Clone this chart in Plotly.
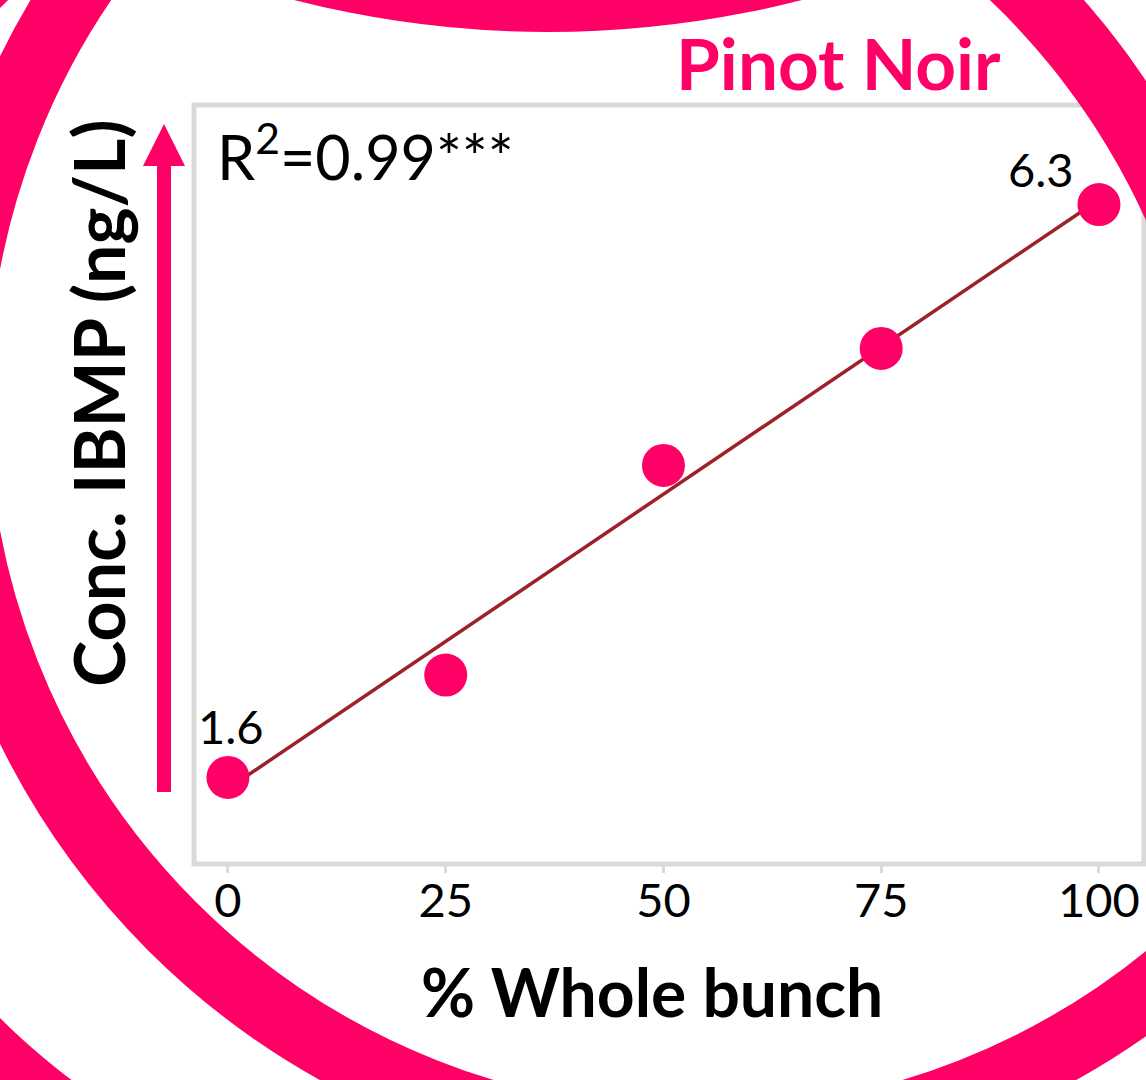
import numpy as np
import plotly.graph_objects as go

# ---- data -------------------------------------------------------------
pct_whole_bunch = [0, 25, 50, 75, 100]
ibmp_ng_per_l = [1.6, 2.44, 4.16, 5.12, 6.3]
x_tick_values = [0, 25, 50, 75, 100]
x_tick_labels = ["0", "25", "50", "75", "100"]
r2_text = "R<sup>2</sup>=0.99***"
title_text = "Pinot Noir"
x_title = "% Whole bunch"
y_title = "Conc. IBMP (ng/L)"

# ---- styling ----------------------------------------------------------
PINK = "#FF0066"
LINE_RED = "#9C2228"
FRAME_GREY = "#D9D9D9"
FONT = "Lato, 'Open Sans', sans-serif"

FIG_W, FIG_H = 1146, 1080
M_L, M_R, M_T, M_B = 194, 2, 105, 216
PW = FIG_W - M_L - M_R
PH = FIG_H - M_T - M_B


def px(x):
    """page pixel x -> paper fraction"""
    return (x - M_L) / PW


def py(y):
    """page pixel y (from top) -> paper fraction"""
    return (FIG_H - M_B - y) / PH


def ring_circle(cx, cy, r, width):
    return dict(type="circle", xref="paper", yref="paper", layer="below",
                x0=px(cx - r), x1=px(cx + r), y0=py(cy + r), y1=py(cy - r),
                line=dict(color=PINK, width=width), fillcolor="rgba(0,0,0,0)")


def ring_arc(cx, cy, r, width, a0, a1, n=240):
    t = np.radians(np.linspace(a0, a1, n))
    xs = cx + r * np.cos(t)
    ys = cy + r * np.sin(t)
    path = "M " + " L ".join(f"{px(a):.5f},{py(b):.5f}" for a, b in zip(xs, ys))
    return dict(type="path", xref="paper", yref="paper", layer="below",
                path=path, line=dict(color=PINK, width=width))


def filled_circle(cx, cy, r):
    return dict(type="circle", xref="paper", yref="paper", layer="below",
                x0=px(cx - r), x1=px(cx + r), y0=py(cy + r), y1=py(cy - r),
                line=dict(width=0), fillcolor=PINK)


# ---- regression -------------------------------------------------------
slope, intercept = np.polyfit(pct_whole_bunch, ibmp_ng_per_l, 1)
fit_x = np.array([min(pct_whole_bunch), max(pct_whole_bunch)])
fit_y = slope * fit_x + intercept

fig = go.Figure()
fig.add_trace(go.Scatter(x=fit_x, y=fit_y, mode="lines",
                         line=dict(color=LINE_RED, width=3.5),
                         hoverinfo="skip", showlegend=False))
fig.add_trace(go.Scatter(x=pct_whole_bunch, y=ibmp_ng_per_l, mode="markers",
                         marker=dict(color=PINK, size=43, line=dict(width=0)),
                         showlegend=False))

# ---- background decoration and frame ---------------------------------
shapes = [
    dict(type="rect", xref="paper", yref="paper", layer="below",
         x0=0, x1=1, y0=0, y1=1, line=dict(color=FRAME_GREY, width=5),
         fillcolor="rgba(0,0,0,0)"),
    ring_circle(698, 400, 744, 68),
    ring_arc(499, 513, 744, 68, 118, 345),
    filled_circle(548, -992, 1024),
    # upward arrow beside the y title
    dict(type="rect", xref="paper", yref="paper", layer="above",
         x0=px(157), x1=px(171), y0=py(792), y1=py(164),
         line=dict(width=0), fillcolor=PINK),
    dict(type="path", xref="paper", yref="paper", layer="above",
         path=f"M {px(143)},{py(166)} L {px(164)},{py(124)} L {px(185)},{py(166)} Z",
         line=dict(width=0), fillcolor=PINK),
]

# ---- text -------------------------------------------------------------
annotations = [
    dict(text=title_text, xref="paper", yref="paper", x=px(838), y=py(62),
         xanchor="center", yanchor="middle", showarrow=False,
         font=dict(family=FONT, size=71, color=PINK, weight=700)),
    dict(text=x_title, xref="paper", yref="paper", x=px(652), y=py(991),
         xanchor="center", yanchor="middle", showarrow=False,
         font=dict(family=FONT, size=66, color="black", weight=700)),
    dict(text=y_title, xref="paper", yref="paper", x=px(98), y=py(403),
         xanchor="center", yanchor="middle", showarrow=False, textangle=-90,
         font=dict(family=FONT, size=70, color="black", weight=700)),
    dict(text=r2_text, xref="paper", yref="paper", x=px(215), y=py(152),
         xanchor="left", yanchor="middle", showarrow=False,
         font=dict(family=FONT, size=61, color="black")),
]

# value labels for the first and last points
first_i, last_i = 0, len(pct_whole_bunch) - 1
annotations.append(dict(x=pct_whole_bunch[first_i], y=ibmp_ng_per_l[first_i],
                        text=f"{ibmp_ng_per_l[first_i]:.1f}", showarrow=False,
                        xanchor="center", yanchor="middle", xshift=3, yshift=51,
                        font=dict(family=FONT, size=47, color="black")))
annotations.append(dict(x=pct_whole_bunch[last_i], y=ibmp_ng_per_l[last_i],
                        text=f"{ibmp_ng_per_l[last_i]:.1f}", showarrow=False,
                        xanchor="center", yanchor="middle", xshift=-58, yshift=36,
                        font=dict(family=FONT, size=47, color="black")))

fig.update_layout(
    width=FIG_W, height=FIG_H,
    margin=dict(l=M_L, r=M_R, t=M_T, b=M_B, pad=0),
    paper_bgcolor="white", plot_bgcolor="white",
    shapes=shapes, annotations=annotations,
    showlegend=False,
    font=dict(family=FONT, color="black"),
)
fig.update_xaxes(range=[-3.9, 105.17], tickmode="array",
                 tickvals=x_tick_values, ticktext=x_tick_labels,
                 ticks="outside", ticklen=8, tickwidth=3, tickcolor=FRAME_GREY,
                 ticklabelstandoff=-12,
                 tickfont=dict(family=FONT, size=47, color="black"),
                 showgrid=False, zeroline=False, showline=False)
fig.update_yaxes(range=[0.89, 7.117], showticklabels=False, ticks="",
                 showgrid=False, zeroline=False, showline=False)

fig.write_html("out.html", config={"displayModeBar": False})
